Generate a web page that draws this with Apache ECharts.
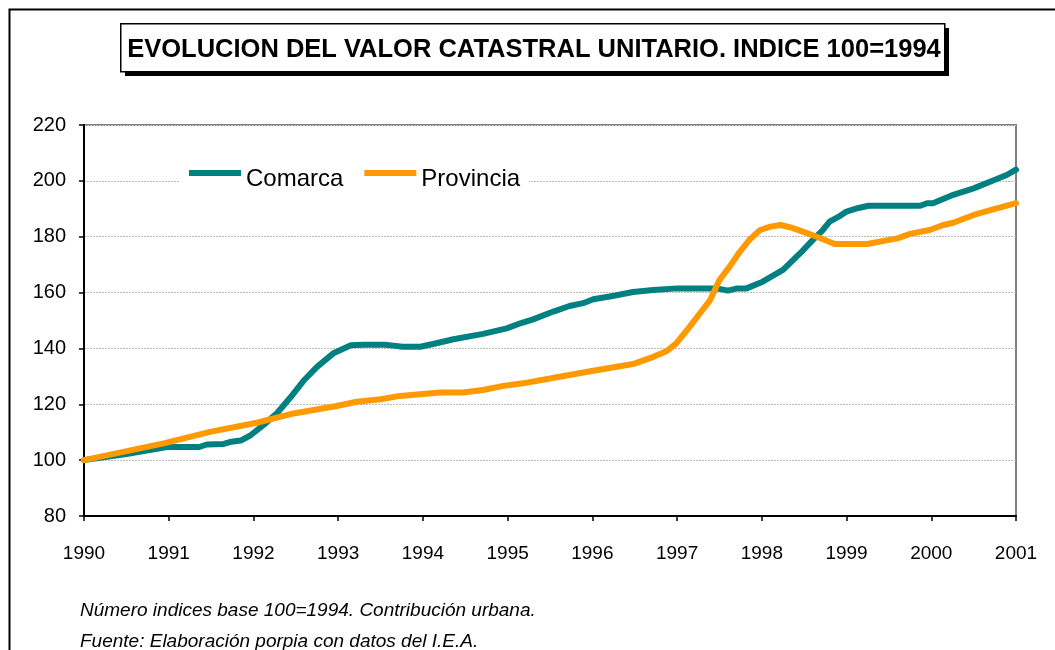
<!DOCTYPE html>
<html>
<head>
<meta charset="utf-8">
<script src="https://cdn.jsdelivr.net/npm/echarts@6/dist/echarts.min.js"></script>
<style>
  html, body { margin: 0; padding: 0; background: #fff; }
  #main { width: 1055px; height: 650px; }
</style>
</head>
<body>
<div id="main"></div>
<script>
// datos (año decimal, indice)
var comarcaYears = [1990.0, 1990.5, 1990.98, 1991.36, 1991.45, 1991.65, 1991.74, 1991.85, 1991.97, 1992.12,
  1992.28, 1992.44, 1992.6, 1992.75, 1992.95, 1993.15, 1993.3, 1993.55, 1993.65, 1993.76,
  1993.97, 1994.12, 1994.36, 1994.71, 1994.99, 1995.15, 1995.3, 1995.54, 1995.73, 1995.89,
  1996.01, 1996.24, 1996.48, 1996.72, 1997.0, 1997.47, 1997.6, 1997.71, 1997.82, 1998.01,
  1998.25, 1998.45, 1998.6, 1998.72, 1998.8, 1998.92, 1999.0, 1999.14, 1999.26, 1999.87,
  1999.95, 2000.02, 2000.26, 2000.5, 2000.73, 2000.89, 2001.0];
var comarcaValues = [100, 102.2, 104.7, 104.7, 105.6, 105.8, 106.6, 107, 109, 112.6,
  116.9, 122.6, 128.7, 133.4, 138.4, 141.1, 141.3, 141.3, 141, 140.6,
  140.6, 141.6, 143.3, 145.2, 147.2, 149, 150.4, 153.2, 155.2, 156.2,
  157.6, 158.8, 160.2, 160.9, 161.5, 161.5, 160.7, 161.5, 161.5, 163.9,
  168.1, 174, 178.8, 182.4, 185.4, 187.4, 189, 190.3, 191.1, 191.1,
  192, 192, 195, 197.3, 200.1, 202.1, 204];

var provinciaYears = [1990.0, 1990.94, 1991.5, 1992.04, 1992.44, 1992.98, 1993.22, 1993.5, 1993.73, 1994.2,
  1994.47, 1994.71, 1994.95, 1995.18, 1995.58, 1996.01, 1996.48, 1996.72, 1996.88, 1996.99,
  1997.15, 1997.27, 1997.39, 1997.5, 1997.62, 1997.74, 1997.86, 1997.98, 1998.1, 1998.22,
  1998.33, 1998.45, 1998.65, 1998.86, 1999.24, 1999.6, 1999.75, 1999.98, 2000.14, 2000.26,
  2000.5, 2000.73, 2001.0];
var provinciaValues = [100, 106, 110.2, 113.4, 116.5, 119.4, 120.9, 121.8, 123, 124.2,
  124.2, 125.1, 126.6, 127.5, 129.7, 132, 134.4, 137, 139.1, 141.8,
  147.8, 152.6, 157.3, 164.5, 169.3, 174.6, 179.1, 182.4, 183.6, 184.2,
  183.4, 182.2, 180, 177.4, 177.4, 179.4, 181, 182.4, 184.2, 185,
  187.8, 189.8, 192];

var seriesNames = ['Comarca', 'Provincia'];
var titulo = 'EVOLUCION DEL VALOR CATASTRAL UNITARIO. INDICE 100=1994';
var notas = ['Número indices base 100=1994. Contribución urbana.',
             'Fuente: Elaboración porpia con datos del I.E.A.'];

function pares(xs, ys) {
  var out = [];
  for (var i = 0; i < xs.length; i++) out.push([xs[i], ys[i]]);
  return out;
}

var myChart = echarts.init(document.getElementById('main'), null, {renderer: 'canvas'});
var fuente = '"Liberation Sans", Arial, sans-serif';

var option = {
  backgroundColor: '#fff',
  animation: false,
  textStyle: { fontFamily: fuente },
  grid: {
    left: 84, right: 39, top: 125, bottom: 134,
    show: true, borderColor: '#808080', borderWidth: 2, backgroundColor: '#fff'
  },
  legend: {
    data: seriesNames,
    left: 180, top: 165,
    backgroundColor: '#fff',
    padding: [2, 9],
    itemGap: 21,
    itemWidth: 52, itemHeight: 18,
    // barra en la parte alta del icono para que quede por encima del texto
    icon: 'path://M0,0 H52 V6 H0 Z M0,18 L0.01,18 Z',
    textStyle: { fontSize: 24, color: '#000', fontFamily: fuente }
  },
  xAxis: {
    type: 'value', min: 1990, max: 2001, interval: 1,
    axisLine: { show: true, lineStyle: { color: '#000', width: 2 } },
    axisTick: { show: true, length: 5, lineStyle: { color: '#000', width: 1.5 } },
    axisLabel: { fontSize: 19, color: '#000', margin: 28, formatter: function (v) { return String(v); } },
    splitLine: { show: false }
  },
  yAxis: {
    type: 'value', min: 80, max: 220, interval: 20,
    axisLine: { show: true, lineStyle: { color: '#000', width: 2 } },
    axisTick: { show: true, length: 5, lineStyle: { color: '#000', width: 1.5 } },
    axisLabel: { fontSize: 20, color: '#000', margin: 18 },
    splitLine: { show: true, lineStyle: { color: '#bdbdbd', type: [2, 1], width: 1 } }
  },
  series: [
    {
      name: seriesNames[0], type: 'line', showSymbol: false, symbol: 'none',
      data: pares(comarcaYears, comarcaValues),
      lineStyle: { color: '#008080', width: 6, cap: 'round', join: 'round' },
      itemStyle: { color: '#008080' }
    },
    {
      name: seriesNames[1], type: 'line', showSymbol: false, symbol: 'none',
      data: pares(provinciaYears, provinciaValues),
      lineStyle: { color: '#ff9900', width: 6, cap: 'round', join: 'round' },
      itemStyle: { color: '#ff9900' }
    }
  ],
  graphic: [
    // marco exterior
    { type: 'rect', left: 7, top: 7, z: -10, silent: true,
      shape: { width: 1100, height: 700 },
      style: { fill: 'none', stroke: '#000', lineWidth: 2 } },
    // sombra del titulo
    { type: 'rect', left: 125, top: 28, silent: true,
      shape: { width: 824, height: 48 },
      style: { fill: '#000' } },
    // caja del titulo
    { type: 'rect', left: 120, top: 23, silent: true,
      shape: { width: 824, height: 48 },
      style: { fill: '#fff', stroke: '#000', lineWidth: 1.5 } },
    { type: 'text', x: 534, y: 50, silent: true,
      style: { text: titulo, fill: '#000', font: 'bold 25.5px ' + fuente,
               align: 'center', verticalAlign: 'middle' } },
    { type: 'text', left: 80, top: 601, silent: true,
      style: { text: notas[0], fill: '#000', font: 'italic 19px ' + fuente } },
    { type: 'text', left: 80, top: 632, silent: true,
      style: { text: notas[1], fill: '#000', font: 'italic 19px ' + fuente } }
  ]
};

myChart.setOption(option);
</script>
</body>
</html>
